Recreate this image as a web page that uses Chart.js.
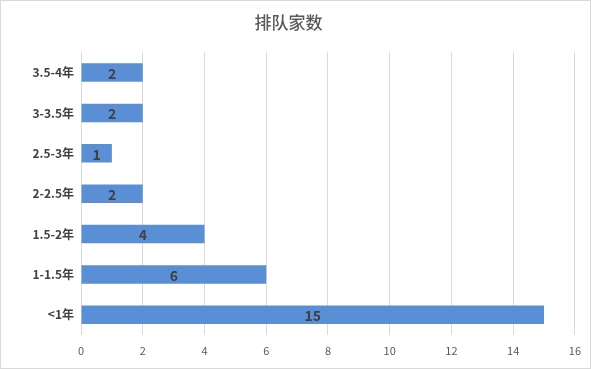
<!DOCTYPE html>
<html>
<head>
<meta charset="utf-8">
<script src="https://cdn.jsdelivr.net/npm/chart.js@4"></script>
<style>
  html, body { margin: 0; padding: 0; background: #fff; }
  #wrap { position: relative; width: 591px; height: 369px; box-sizing: border-box; border: 1px solid #d9d9d9; }
  canvas { display: block; }
</style>
</head>
<body>
<div id="wrap"><canvas id="queueChart" width="589" height="367"></canvas></div>
<script>
// --------------------------------
// Data
// --------------------------------
const categories = ["3.5-4年", "3-3.5年", "2.5-3年", "2-2.5年", "1.5-2年", "1-1.5年", "<1年"];
const counts = [2, 2, 1, 2, 4, 6, 15];
const xTicks = [0, 2, 4, 6, 8, 10, 12, 14, 16];

const FONT = "'Noto Sans CJK SC', 'Noto Sans', sans-serif";

// draw the value in the middle of each bar
const barLabels = {
  id: "barLabels",
  afterDatasetsDraw(chart) {
    const ctx = chart.ctx;
    const meta = chart.getDatasetMeta(0);
    ctx.save();
    ctx.font = "bold 14px " + FONT;
    ctx.fillStyle = "#404040";
    ctx.textAlign = "center";
    ctx.textBaseline = "middle";
    meta.data.forEach((bar, i) => {
      const cx = (bar.x + bar.base) / 2;
      ctx.fillText(String(counts[i]), cx, bar.y + 1);
    });
    ctx.restore();
  },
};

new Chart(document.getElementById("queueChart").getContext("2d"), {
  type: "bar",
  data: {
    labels: categories,
    datasets: [
      {
        label: "排队家数",
        data: counts,
        backgroundColor: "#5a8fd6",
        barPercentage: 0.46,
        categoryPercentage: 1,
      },
    ],
  },
  options: {
    indexAxis: "y",
    responsive: false,
    animation: false,
    layout: { padding: { left: 0, right: 14, top: 0, bottom: 0 } },
    plugins: {
      legend: { display: false },
      tooltip: { enabled: false },
      title: {
        display: true,
        text: "排队家数",
        color: "#595959",
        font: { family: FONT, size: 17, weight: "500" },
        padding: { top: 11, bottom: 20 },
      },
    },
    scales: {
      x: {
        min: 0,
        max: 16,
        afterBuildTicks: (axis) => {
          axis.ticks = xTicks.map((v) => ({ value: v }));
        },
        afterFit: (axis) => { axis.height = 33; },
        grid: { color: "#d9d9d9", drawTicks: false },
        border: { display: false },
        ticks: {
          color: "#595959",
          padding: 9,
          font: { family: FONT, size: 11 },
        },
      },
      y: {
        afterFit: (axis) => { axis.width = 80; },
        grid: { display: false, drawTicks: false },
        border: { display: false },
        ticks: {
          color: "#404040",
          padding: 7,
          font: { family: FONT, size: 12, weight: "bold" },
        },
      },
    },
  },
  plugins: [barLabels],
});
</script>
</body>
</html>
